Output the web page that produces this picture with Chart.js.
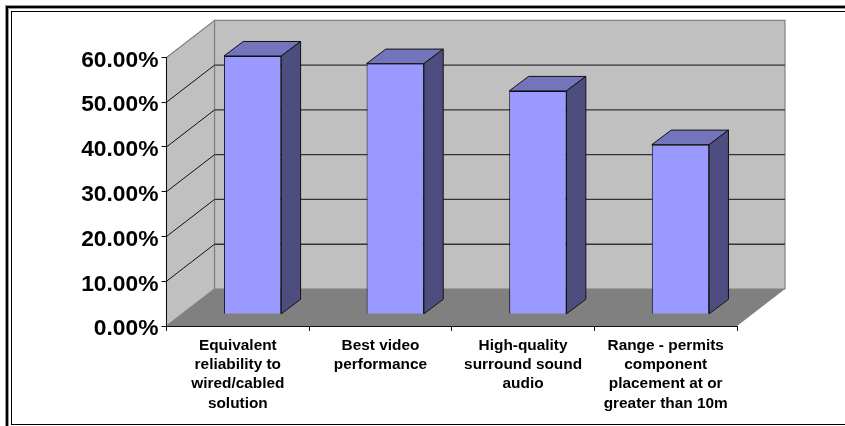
<!DOCTYPE html>
<html>
<head>
<meta charset="utf-8">
<style>
  html, body { margin: 0; padding: 0; background: #fff; overflow: hidden; }
  #wrap { position: relative; width: 845px; height: 426px; }
</style>
<script src="https://cdn.jsdelivr.net/npm/chart.js@4"></script>
</head>
<body>
<div id="wrap"><canvas id="chart" width="845" height="426"></canvas></div>
<script>
// Feature ratings as percentages.
const categories = [
  ["Equivalent", "reliability to", "wired/cabled", "solution"],
  ["Best video", "performance"],
  ["High-quality", "surround sound", "audio"],
  ["Range - permits", "component", "placement at or", "greater than 10m"]
];
const ratings = [57.7, 56, 49.9, 37.9];
const tickValues = [0, 10, 20, 30, 40, 50, 60];

// Oblique projection of the box: wall depth and the depth at which bars stand.
const WALL_DX = 48, WALL_DY = -37;
const BAR_DX = 14.8, BAR_DY = -11.7;
const CAP_DX = 19.3, CAP_DY = -14.5;

const poly = (ctx, pts, fill, stroke, lw) => {
  ctx.beginPath();
  pts.forEach((p, i) => i ? ctx.lineTo(p[0], p[1]) : ctx.moveTo(p[0], p[1]));
  ctx.closePath();
  if (fill) { ctx.fillStyle = fill; ctx.fill(); }
  if (stroke) { ctx.strokeStyle = stroke; ctx.lineWidth = lw || 1; ctx.stroke(); }
};

const line = (ctx, x1, y1, x2, y2, color, lw) => {
  ctx.beginPath();
  ctx.moveTo(x1, y1);
  ctx.lineTo(x2, y2);
  ctx.strokeStyle = color;
  ctx.lineWidth = lw || 1;
  ctx.stroke();
};

// Double rule around the figure; it runs off the right edge.
const framePlugin = {
  id: 'frame',
  beforeDraw(chart) {
    const { ctx, width } = chart;
    ctx.save();
    ctx.fillStyle = '#999';
    ctx.fillRect(5, 5, width, 4);
    ctx.fillRect(5, 5, 4, 421);
    ctx.fillStyle = '#000';
    ctx.fillRect(6, 6, width, 2);
    ctx.fillRect(6, 6, 2, 420);
    ctx.fillRect(11, 11, width, 1);
    ctx.fillRect(11, 11, 1, 414);
    ctx.fillRect(11, 424, width, 1);
    ctx.restore();
  }
};

// Back wall, side wall, floor and gridlines, placed from the value scale.
const boxPlugin = {
  id: 'box',
  beforeDraw(chart) {
    const { ctx, chartArea: a, scales: { y } } = chart;
    const bl = [a.left, a.bottom], br = [a.right, a.bottom];
    const top = y.getPixelForValue(60);
    const blB = [a.left + WALL_DX, a.bottom + WALL_DY];
    const brB = [a.right + WALL_DX, a.bottom + WALL_DY];
    const tlB = [a.left + WALL_DX, top + WALL_DY];
    const trB = [a.right + WALL_DX, top + WALL_DY];
    const tl = [a.left, top];
    ctx.save();
    poly(ctx, [tlB, trB, brB, blB], '#C0C0C0', '#808080', 1.2);
    poly(ctx, [tl, tlB, blB, bl], '#C0C0C0', '#808080', 1.2);
    poly(ctx, [bl, br, brB, blB], '#808080', null);
    tickValues.filter(v => v > 0 && v < 60).forEach(v => {
      const py = y.getPixelForValue(v);
      line(ctx, a.left, py, a.left + WALL_DX, py + WALL_DY, '#111', 1);
      line(ctx, a.left + WALL_DX, py + WALL_DY, a.right + WALL_DX, py + WALL_DY, '#333', 1.3);
    });
    ctx.restore();
  },
  // Front faces are drawn by the bar elements, shifted back to the bars' depth.
  beforeDatasetDraw(chart) {
    chart.ctx.save();
    chart.ctx.translate(BAR_DX, BAR_DY);
  },
  afterDatasetDraw(chart, args) {
    const { ctx } = chart;
    args.meta.data.forEach(bar => {
      const p = bar.getProps(['x', 'y', 'base', 'width'], true);
      const l = p.x - p.width / 2, r = p.x + p.width / 2;
      poly(ctx, [[l, p.y], [l + CAP_DX, p.y + CAP_DY], [r + CAP_DX, p.y + CAP_DY], [r, p.y]], '#7474BD', '#111', 1);
      poly(ctx, [[r, p.y], [r + CAP_DX, p.y + CAP_DY], [r + CAP_DX, p.base + CAP_DY], [r, p.base]], '#4D4D80', '#111', 1);
    });
    ctx.restore();
  }
};

new Chart(document.getElementById('chart'), {
  type: 'bar',
  data: {
    labels: categories,
    datasets: [{
      data: ratings,
      backgroundColor: '#9999FF',
      borderColor: '#111',
      borderWidth: 1,
      barPercentage: 0.402,
      categoryPercentage: 1,
      clip: false
    }]
  },
  plugins: [framePlugin, boxPlugin],
  options: {
    responsive: false,
    animation: false,
    layout: { padding: { top: 57.4, right: 108, left: 0, bottom: 0 } },
    plugins: { legend: { display: false }, tooltip: { enabled: false }, title: { display: false } },
    scales: {
      x: {
        afterFit(s) { s.height = 100; },
        grid: { display: true, drawOnChartArea: false, drawTicks: true, tickLength: 5, color: '#111', offset: true },
        border: { display: true, color: '#111', width: 1 },
        ticks: {
          color: '#000',
          padding: 5,
          maxRotation: 0,
          autoSkip: false,
          font: { family: '"Liberation Sans", Arial, sans-serif', size: 15.4, weight: 'bold', lineHeight: 1.25 }
        }
      },
      y: {
        min: 0,
        max: 60,
        afterFit(s) { s.width = 166.5; },
        afterBuildTicks(s) { s.ticks = tickValues.map(v => ({ value: v })); },
        grid: { display: true, drawOnChartArea: false, drawTicks: true, tickLength: 5, color: '#111' },
        border: { display: true, color: '#111', width: 1 },
        ticks: {
          color: '#000',
          padding: 3,
          labelOffset: 3,
          callback: v => v.toFixed(2) + '%',
          font: { family: '"Liberation Sans", Arial, sans-serif', size: 22.8, weight: 'bold' }
        }
      }
    }
  }
});
</script>
</body>
</html>
